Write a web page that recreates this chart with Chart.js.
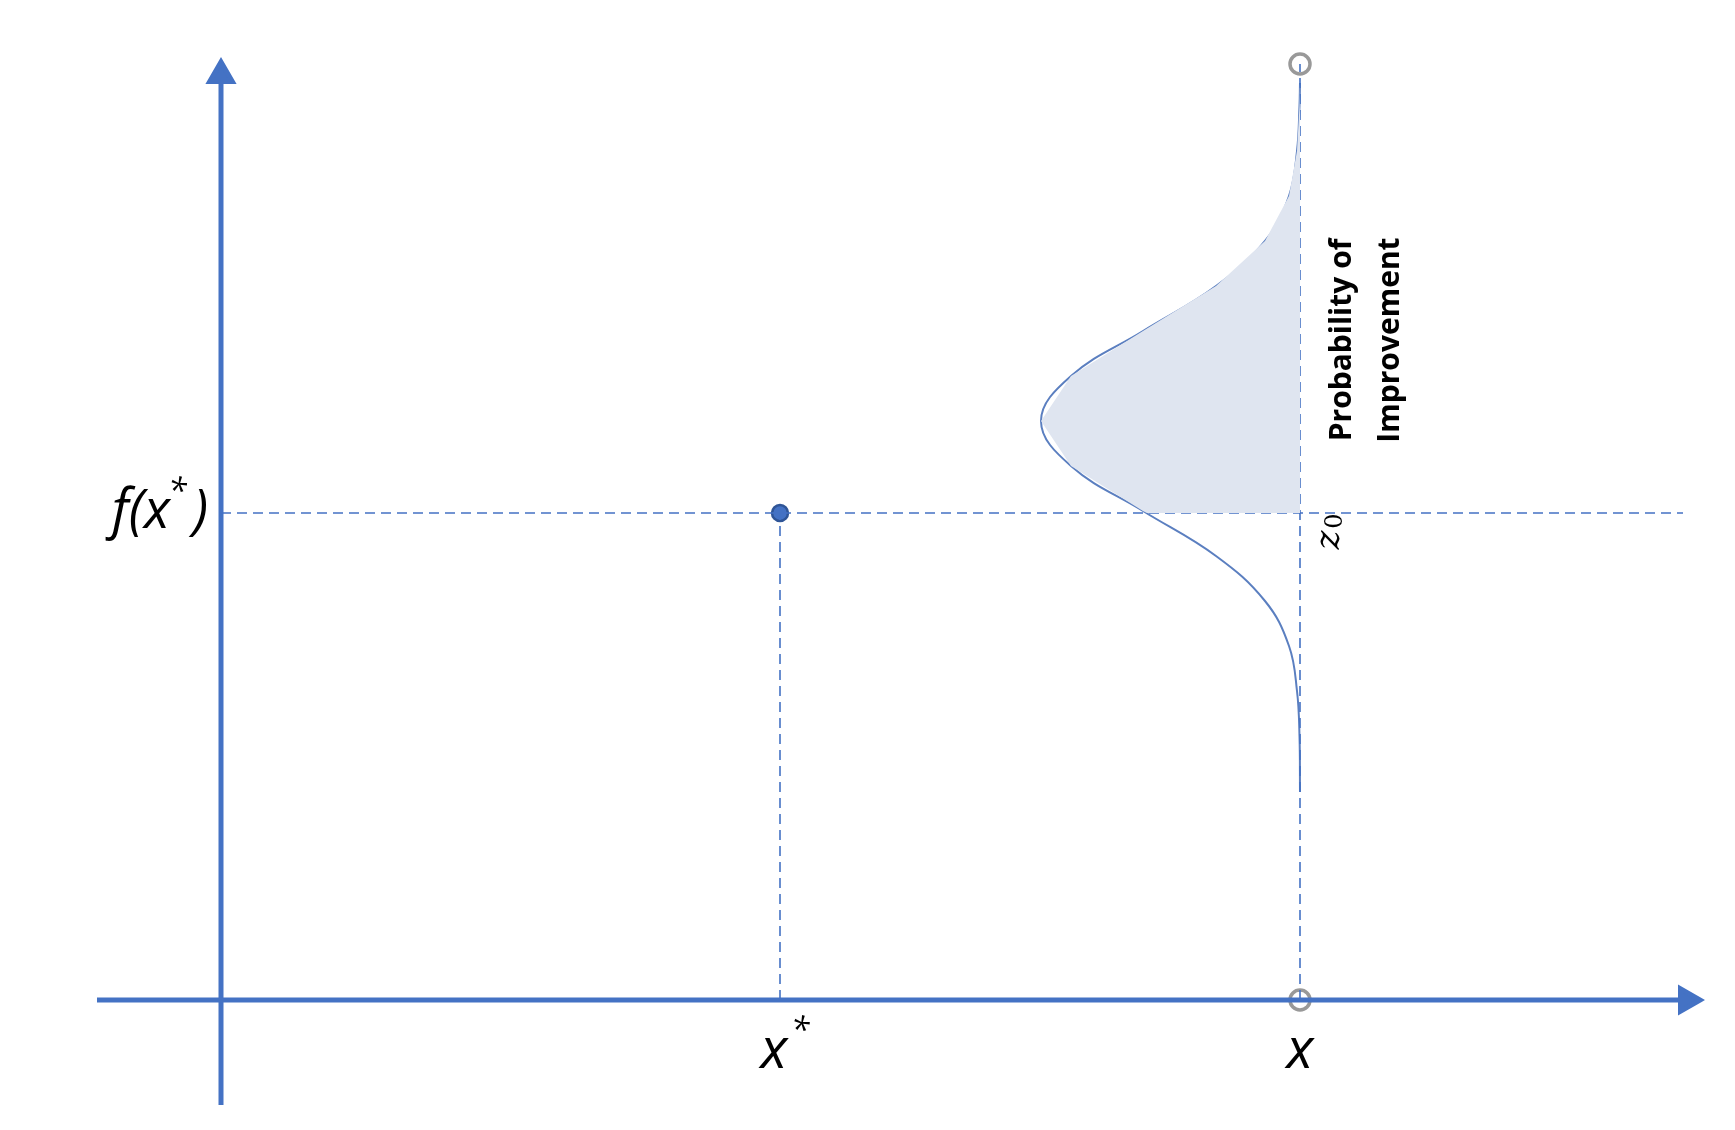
<!DOCTYPE html>
<html>
<head>
<meta charset="utf-8">
<script src="https://cdn.jsdelivr.net/npm/chart.js@4/dist/chart.umd.min.js"></script>
<style>
  html, body { margin: 0; padding: 0; background: #fff; }
  #wrap { width: 1735px; height: 1130px; }
</style>
</head>
<body>
<div id="wrap"><canvas id="c"></canvas></div>
<script>
// data units: origin at the axes crossing
const xStar = 559;
const xNew = 1079;
const fBest = 487;

// gaussian: height (y) and distance left of x
const curveY = [917, 894, 849, 804, 759, 714, 669, 624, 579, 534, 489, 444, 399, 354, 309, 264, 208];
const curveW = [0, 0.5, 3, 11, 35, 84, 157, 229, 259, 229, 157, 84, 35, 11, 3, 0.5, 0];

const blue = "#4472C4";
const curvePts = curveY.map((y, i) => ({ x: xNew - curveW[i], y: y }));

// shaded part: curve above f(x*), closed on the x line
const shadePts = [];
curveY.forEach((y, i) => {
  if (y >= fBest) shadePts.push({ x: xNew - curveW[i], y: y });
});
shadePts.push({ x: xNew - 153, y: fBest });
shadePts.push({ x: xNew, y: fBest });
shadePts.push({ x: xNew, y: 917 });

const labels = {
  id: "labels",
  afterDraw(chart) {
    const ctx = chart.ctx;
    const sx = chart.scales.x, sy = chart.scales.y;
    ctx.save();
    ctx.fillStyle = "#000";
    ctx.textBaseline = "middle";
    // f(x*)
    ctx.font = "italic 54px 'Open Sans'";
    ctx.textAlign = "right";
    const fy = sy.getPixelForValue(fBest);
    ctx.fillText("f(x", 170, fy);
    ctx.fillText(")", 208, fy);
    ctx.font = "italic 34px 'Open Sans'";
    ctx.textAlign = "left";
    ctx.fillText("*", 168, fy - 20);
    // x* and x
    ctx.font = "italic 56px 'Open Sans'";
    ctx.textAlign = "center";
    ctx.fillText("x", sx.getPixelForValue(xStar) - 6, 1052);
    ctx.fillText("x", sx.getPixelForValue(xNew), 1052);
    ctx.font = "italic 34px 'Open Sans'";
    ctx.fillText("*", sx.getPixelForValue(xStar) + 20, 1032);
    // rotated labels
    ctx.translate(sx.getPixelForValue(xNew), 0);
    ctx.rotate(-Math.PI / 2);
    ctx.font = "bold 30px 'Open Sans'";
    ctx.textAlign = "center";
    ctx.fillText("Probability of", -340, 42);
    ctx.fillText("Improvement", -340, 90);
    ctx.font = "italic 36px 'DejaVu Serif'";
    ctx.fillText("z", -540, 30);
    ctx.font = "24px 'DejaVu Serif'";
    ctx.fillText("0", -521, 36);
    ctx.restore();
  }
};

const dash = { borderColor: blue, borderWidth: 1.6, borderDash: [10, 6], pointRadius: 0, showLine: true, fill: false };

new Chart(document.getElementById("c"), {
  type: "scatter",
  data: {
    datasets: [
      { data: shadePts, showLine: true, fill: "shape", backgroundColor: "#DFE5F0", borderWidth: 0, pointRadius: 0 },
      { ...dash, data: [{ x: 0, y: fBest }, { x: 1462, y: fBest }] },
      { ...dash, data: [{ x: xStar, y: 0 }, { x: xStar, y: fBest }] },
      { ...dash, data: [{ x: xNew, y: 0 }, { x: xNew, y: 936 }] },
      { data: curvePts, showLine: true, fill: false, borderColor: "#5B7FC0", borderWidth: 2, pointRadius: 0, tension: 0.4 },
      // axes with arrow heads
      { data: [{ x: -124, y: 0 }, { x: 1466, y: 0 }], showLine: true, borderColor: blue, borderWidth: 5,
        pointRadius: [0, 13], pointStyle: "triangle", rotation: 90, pointBackgroundColor: blue, pointBorderColor: blue },
      { data: [{ x: 0, y: -105 }, { x: 0, y: 925 }], showLine: true, borderColor: blue, borderWidth: 5,
        pointRadius: [0, 13], pointStyle: "triangle", rotation: 0, pointBackgroundColor: blue, pointBorderColor: blue },
      { data: [{ x: xStar, y: fBest }], pointRadius: 8, pointBackgroundColor: blue, pointBorderColor: "#2F5597", pointBorderWidth: 2.5 },
      { data: [{ x: xNew, y: 0 }, { x: xNew, y: 936 }], pointRadius: 10, pointBackgroundColor: "#fff", pointBorderColor: "#999", pointBorderWidth: 3.5 }
    ]
  },
  options: {
    responsive: true,
    maintainAspectRatio: false,
    animation: false,
    layout: { padding: 0, autoPadding: false },
    plugins: { legend: { display: false }, tooltip: { enabled: false } },
    scales: {
      x: { type: "linear", min: -221, max: 1514, display: false },
      y: { type: "linear", min: -130, max: 1000, display: false }
    }
  },
  plugins: [labels]
});
</script>
</body>
</html>
